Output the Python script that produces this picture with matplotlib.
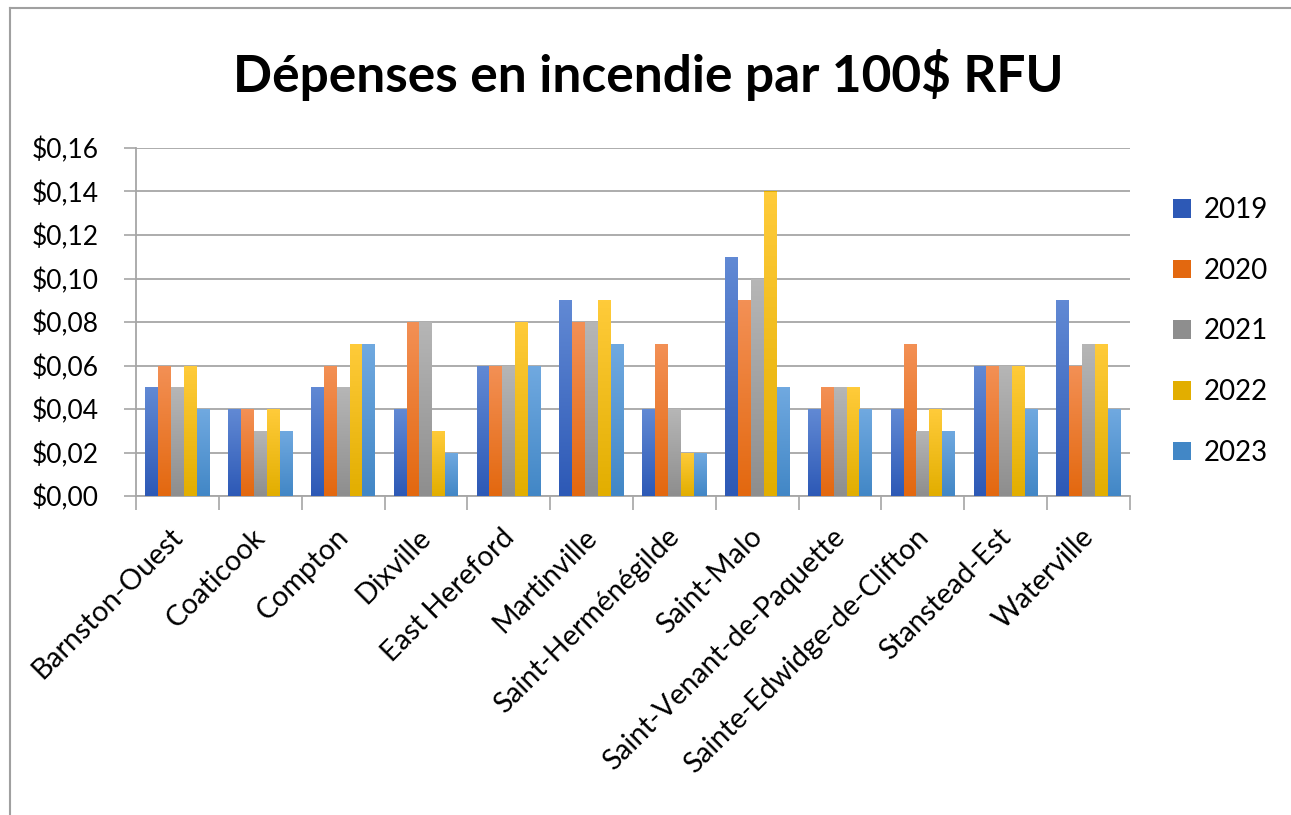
import numpy as np
import matplotlib.pyplot as plt
import matplotlib.transforms as mtransforms
from matplotlib.lines import Line2D
from matplotlib.colors import LinearSegmentedColormap
from matplotlib.patches import Patch
from matplotlib.ticker import FuncFormatter

plt.rcParams['font.family'] = ['Lato', 'DejaVu Sans']

municipalites = ['Barnston-Ouest', 'Coaticook', 'Compton', 'Dixville', 'East Hereford',
                 'Martinville', 'Saint-Herménégilde', 'Saint-Malo',
                 'Saint-Venant-de-Paquette', 'Sainte-Edwidge-de-Clifton',
                 'Stanstead-Est', 'Waterville']
annees = ['2019', '2020', '2021', '2022', '2023']

v2019 = [0.05, 0.04, 0.05, 0.04, 0.06, 0.09, 0.04, 0.11, 0.04, 0.04, 0.06, 0.09]
v2020 = [0.06, 0.04, 0.06, 0.08, 0.06, 0.08, 0.07, 0.09, 0.05, 0.07, 0.06, 0.06]
v2021 = [0.05, 0.03, 0.05, 0.08, 0.06, 0.08, 0.04, 0.10, 0.05, 0.03, 0.06, 0.07]
v2022 = [0.06, 0.04, 0.07, 0.03, 0.08, 0.09, 0.02, 0.14, 0.05, 0.04, 0.06, 0.07]
v2023 = [0.04, 0.03, 0.07, 0.02, 0.06, 0.07, 0.02, 0.05, 0.04, 0.03, 0.04, 0.04]
series = [v2019, v2020, v2021, v2022, v2023]

# top colour, bottom colour (Excel-like gradient)
grad = [('#6189D4', '#2D59B6'),
        ('#F39055', '#E3680F'),
        ('#B6B6B6', '#8E8E8E'),
        ('#FFCB3A', '#E2AE00'),
        ('#70A9E0', '#4287C6')]

fig = plt.figure(figsize=(12.91, 8.15), dpi=100)
W, H = 1291, 815
ax = fig.add_axes([136 / W, 1 - 496 / H, (1130 - 136) / W, (496 - 148) / H])

x = np.arange(len(municipalites))
bw = 0.155
ramp = np.linspace(1, 0, 64).reshape(-1, 1)
for i, vals in enumerate(series):
    pos = x + (i - 2) * bw
    bars = ax.bar(pos, vals, bw, color=grad[i][1], zorder=3, linewidth=0)
    cmap = LinearSegmentedColormap.from_list('g%d' % i, [grad[i][1], grad[i][0]])
    for b in bars:
        x0, y0 = b.get_x(), b.get_y()
        im = ax.imshow(ramp, cmap=cmap, vmin=0, vmax=1, aspect='auto',
                       extent=[x0, x0 + b.get_width(), y0, y0 + b.get_height()],
                       zorder=4, interpolation='bilinear')
        im.set_clip_path(b)

ax.set_xlim(-0.5, len(municipalites) - 0.5)
ax.set_ylim(0, 0.16)
ax.set_yticks(np.arange(0, 0.161, 0.02))
ax.yaxis.set_major_formatter(FuncFormatter(lambda v, p: ('$%.2f' % v).replace('.', ',')))
ax.grid(axis='y', color='#A6A6A6', linewidth=1.3, zorder=0)
ax.set_axisbelow(True)

ax.set_xticks(x)
ax.set_xticklabels(municipalites, rotation=45, ha='right', rotation_mode='anchor')
ax.set_xticks(np.arange(-0.5, len(municipalites)), minor=True)
ax.tick_params(axis='x', which='major', length=0, pad=20, labelsize=20.5)
ax.tick_params(axis='x', which='minor', length=10, width=1.2, color='#A6A6A6')
ax.tick_params(axis='y', length=9, width=1.2, color='#A6A6A6', labelsize=19, pad=18)
shift = mtransforms.ScaledTranslation(-8 / 100, 0, fig.dpi_scale_trans)
for lab in ax.get_xticklabels():
    lab.set_transform(lab.get_transform() + shift)

for s in ['top', 'right']:
    ax.spines[s].set_visible(False)
for s in ['left', 'bottom']:
    ax.spines[s].set_color('#A6A6A6')
    ax.spines[s].set_linewidth(1.3)

fig.text(648 / W, 1 - 75 / H, 'Dépenses en incendie par 100$ RFU',
         ha='center', va='center', fontsize=37, fontweight='bold')

handles = [Patch(facecolor=grad[i][1], edgecolor='none') for i in range(5)]
fig.legend(handles, annees, loc='upper left', bbox_to_anchor=(1148 / W, 1 - 172 / H),
           frameon=False, fontsize=20, handlelength=0.65, handleheight=0.65,
           handletextpad=0.45, labelspacing=1.25)

# chart frame
fig.add_artist(Line2D([10 / W, 10 / W], [0, 1 - 8 / H], color='#A0A0A0', lw=1.5,
                      transform=fig.transFigure))
fig.add_artist(Line2D([10 / W, 1], [1 - 8 / H, 1 - 8 / H], color='#A0A0A0', lw=1.5,
                      transform=fig.transFigure))

fig.savefig('out.png', dpi=100)
